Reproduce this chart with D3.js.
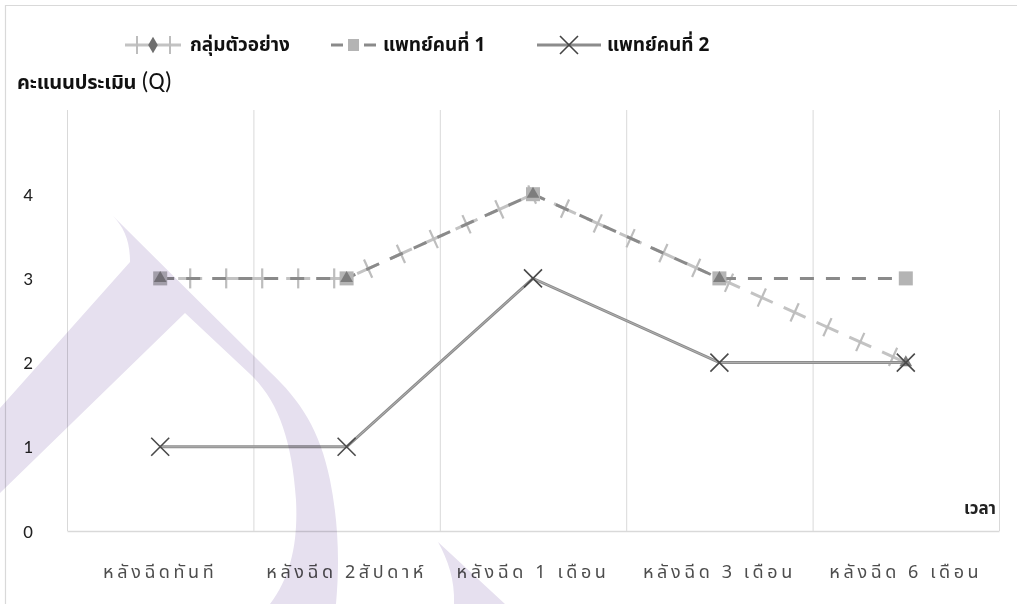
<!DOCTYPE html>
<html>
<head>
<meta charset="utf-8">
<script src="https://cdn.jsdelivr.net/npm/d3@7"></script>
<style>
  html, body { margin: 0; padding: 0; background: #fff; }
  svg { display: block; }
  .thai { font-family: Tahoma, "Noto Sans Thai", "Leelawadee UI", "DejaVu Sans", sans-serif; }
</style>
</head>
<body>
<svg id="chart" width="1017" height="604"></svg>
<script>
// ---- data ----
const categories = ["หลังฉีดทันที", "หลังฉีด 2สัปดาห์", "หลังฉีด 1 เดือน", "หลังฉีด 3 เดือน", "หลังฉีด 6 เดือน"];
const sampleGroup = [3, 3, 4, 3, 2];   // กลุ่มตัวอย่าง
const doctor1 = [3, 3, 4, 3, 3];       // แพทย์คนที่ 1
const doctor2 = [1, 1, 3, 2, 2];       // แพทย์คนที่ 2
const seriesNames = ["กลุ่มตัวอย่าง", "แพทย์คนที่ 1", "แพทย์คนที่ 2"];
const yTicks = [0, 1, 2, 3, 4];
const yTitle = "คะแนนประเมิน";
const yTitleUnit = "(Q)";
const xTitle = "เวลา";

// ---- layout ----
const svg = d3.select("#chart");
const W = 1017, H = 604;
const plot = { left: 67, right: 999, top: 110, bottom: 531 };

const x = d3.scaleBand().domain(categories).range([plot.left, plot.right]).paddingInner(0).paddingOuter(0);
const y = d3.scaleLinear().domain([0, 5]).range([plot.bottom, plot.top]);
const cx = d => x(d) + x.bandwidth() / 2;

// outer frame
svg.append("rect").attr("x", 0).attr("y", 0).attr("width", W).attr("height", H).attr("fill", "#fff");
svg.append("path").attr("d", `M5.5,${H} V5.5 H${W}`).attr("fill", "none").attr("stroke", "#d9d9d9").attr("stroke-width", 1.2);

// vertical gridlines on category boundaries
const bounds = categories.map(c => x(c)).concat([plot.right]);
svg.append("g").selectAll("line").data(bounds).join("line")
  .attr("x1", d => d + 0.5).attr("x2", d => d + 0.5)
  .attr("y1", plot.top).attr("y2", plot.bottom)
  .attr("stroke", "#d9d9d9").attr("stroke-width", 1);

// x axis
const xAxis = svg.append("g").attr("transform", `translate(0,${plot.bottom})`)
  .call(d3.axisBottom(x).tickSize(0).tickPadding(34));
xAxis.select(".domain").attr("stroke", "#d9d9d9").attr("stroke-width", 1.5);
xAxis.selectAll("text")
  .attr("font-size", 18).attr("fill", "#4d4d4d").attr("letter-spacing", "3.6px")
  .attr("font-family", 'Tahoma, "Noto Sans Thai", "DejaVu Sans", sans-serif');

// y axis labels
const yAxis = svg.append("g").attr("transform", `translate(28,0)`)
  .call(d3.axisLeft(y).tickValues(yTicks).tickSize(0).tickPadding(0).tickFormat(d3.format("d")));
yAxis.select(".domain").remove();
yAxis.selectAll("text").attr("text-anchor", "middle").attr("font-size", 19).attr("fill", "#222")
  .attr("font-family", 'Carlito, "Liberation Sans", sans-serif');

// axis titles
const yt = svg.append("text").attr("class", "thai").attr("x", 17).attr("y", 89)
  .attr("font-size", 20).attr("font-weight", "bold").attr("fill", "#111");
yt.append("tspan").attr("letter-spacing", "-0.2px").text(yTitle + " ");
yt.append("tspan").attr("font-weight", "normal").attr("font-size", 24)
  .attr("font-family", 'Carlito, "Liberation Sans", sans-serif').text(yTitleUnit);
svg.append("text").attr("class", "thai").attr("x", 996).attr("y", 514).attr("text-anchor", "end")
  .attr("font-size", 17).attr("font-weight", "bold").attr("fill", "#222").text(xTitle);

// ---- series ----
const line = d3.line().x((d, i) => cx(categories[i])).y(d => y(d));
const tickEvery = 36, tickStart = 30, tickHalf = 10;

// sample group: light line with cross ticks
const sgPath = svg.append("path").datum(sampleGroup).attr("d", line)
  .attr("fill", "none").attr("stroke", "#c3c3c3").attr("stroke-width", 3)
  .attr("stroke-dasharray", "24,12").attr("stroke-dashoffset", 18);
const sgNode = sgPath.node();
const total = sgNode.getTotalLength();
const tickPos = d3.range(tickStart, total - 6, tickEvery);
svg.append("g").selectAll("line").data(tickPos).join("line")
  .each(function (s) {
    const p = sgNode.getPointAtLength(s);
    const a = sgNode.getPointAtLength(Math.max(0, s - 1));
    const b = sgNode.getPointAtLength(Math.min(total, s + 1));
    const dx = b.x - a.x, dy = b.y - a.y;
    const len = Math.hypot(dx, dy) || 1;
    const nx = -dy / len, ny = dx / len;
    d3.select(this)
      .attr("x1", p.x - nx * tickHalf).attr("y1", p.y - ny * tickHalf)
      .attr("x2", p.x + nx * tickHalf).attr("y2", p.y + ny * tickHalf);
  })
  .attr("stroke", "#bdbdbd").attr("stroke-width", 2.2);

// doctor 1: dashed darker line
svg.append("path").datum(doctor1).attr("d", line)
  .attr("fill", "none").attr("stroke", "#8a8a8a").attr("stroke-width", 3)
  .attr("stroke-dasharray", "14,12");

// doctor 2: solid line
svg.append("path").datum(doctor2).attr("d", line)
  .attr("fill", "none").attr("stroke", "#8c8c8c").attr("stroke-width", 3);
svg.append("path").datum(doctor2).attr("d", line)
  .attr("fill", "none").attr("stroke", "#bdbdbd").attr("stroke-width", 0.8);

// markers: doctor 1 squares
svg.append("g").selectAll("rect").data(doctor1).join("rect")
  .attr("x", (d, i) => cx(categories[i]) - 7).attr("y", d => y(d) - 7)
  .attr("width", 14).attr("height", 14).attr("fill", "#b4b4b4");

// markers: sample group triangles
const tri = d3.symbol().type(d3.symbolTriangle).size(70);
svg.append("g").selectAll("path").data(sampleGroup).join("path")
  .attr("d", tri)
  .attr("transform", (d, i) => `translate(${cx(categories[i])},${y(d)})`)
  .attr("fill", "#7d7d7d");

// markers: doctor 2 crosses
const xr = 9;
svg.append("g").selectAll("path").data(doctor2).join("path")
  .attr("d", (d, i) => {
    const px = cx(categories[i]), py = y(d);
    return `M${px - xr},${py - xr}L${px + xr},${py + xr}M${px - xr},${py + xr}L${px + xr},${py - xr}`;
  })
  .attr("stroke", "#4a4a4a").attr("stroke-width", 1.6).attr("fill", "none");

// ---- legend ----
const lg = svg.append("g");
const ly = 45;
const legendFont = { size: 19 };
// item 1
lg.append("line").attr("x1", 125).attr("x2", 181).attr("y1", ly).attr("y2", ly)
  .attr("stroke", "#c3c3c3").attr("stroke-width", 3);
[137, 170].forEach(tx => lg.append("line").attr("x1", tx).attr("x2", tx)
  .attr("y1", ly - 9).attr("y2", ly + 9).attr("stroke", "#bdbdbd").attr("stroke-width", 2));
lg.append("path").attr("d", d3.symbol().type(d3.symbolDiamond).size(80))
  .attr("transform", `translate(153,${ly})`).attr("fill", "#6e6e6e");
lg.append("text").attr("class", "thai").attr("x", 190).attr("y", ly + 6)
  .attr("font-size", legendFont.size).attr("font-weight", "bold").attr("fill", "#111").text(seriesNames[0]);
// item 2
lg.append("line").attr("x1", 331).attr("x2", 343).attr("y1", ly).attr("y2", ly)
  .attr("stroke", "#8a8a8a").attr("stroke-width", 3);
lg.append("line").attr("x1", 364).attr("x2", 376).attr("y1", ly).attr("y2", ly)
  .attr("stroke", "#8a8a8a").attr("stroke-width", 3);
lg.append("rect").attr("x", 348).attr("y", ly - 6).attr("width", 11).attr("height", 12).attr("fill", "#b4b4b4");
lg.append("text").attr("class", "thai").attr("x", 383).attr("y", ly + 6)
  .attr("font-size", legendFont.size).attr("font-weight", "bold").attr("fill", "#111").text(seriesNames[1]);
// item 3
lg.append("line").attr("x1", 537).attr("x2", 601).attr("y1", ly).attr("y2", ly)
  .attr("stroke", "#8c8c8c").attr("stroke-width", 3);
lg.append("path")
  .attr("d", `M${569 - 9},${ly - 9}L${569 + 9},${ly + 9}M${569 - 9},${ly + 9}L${569 + 9},${ly - 9}`)
  .attr("stroke", "#444").attr("stroke-width", 1.6);
lg.append("text").attr("class", "thai").attr("x", 607).attr("y", ly + 6)
  .attr("font-size", legendFont.size).attr("font-weight", "bold").attr("fill", "#111").text(seriesNames[2]);

// ---- faint emblem in the background ----
const emblem = svg.append("g").style("mix-blend-mode", "multiply").attr("fill", "#e6e0ef");
emblem.append("path").attr("d",
  "M113,216 C124,228 130,240 130,262 L0,408 L0,493 L185,313 L250,374 " +
  "C278,400 292,440 296,500 C298,540 292,575 270,604 L336,604 " +
  "C340,560 338,520 330,480 C320,430 300,400 270,372 Z");
emblem.append("path").attr("d",
  "M438,542 C448,560 455,580 454,604 L505,604 Z");
</script>
</body>
</html>
